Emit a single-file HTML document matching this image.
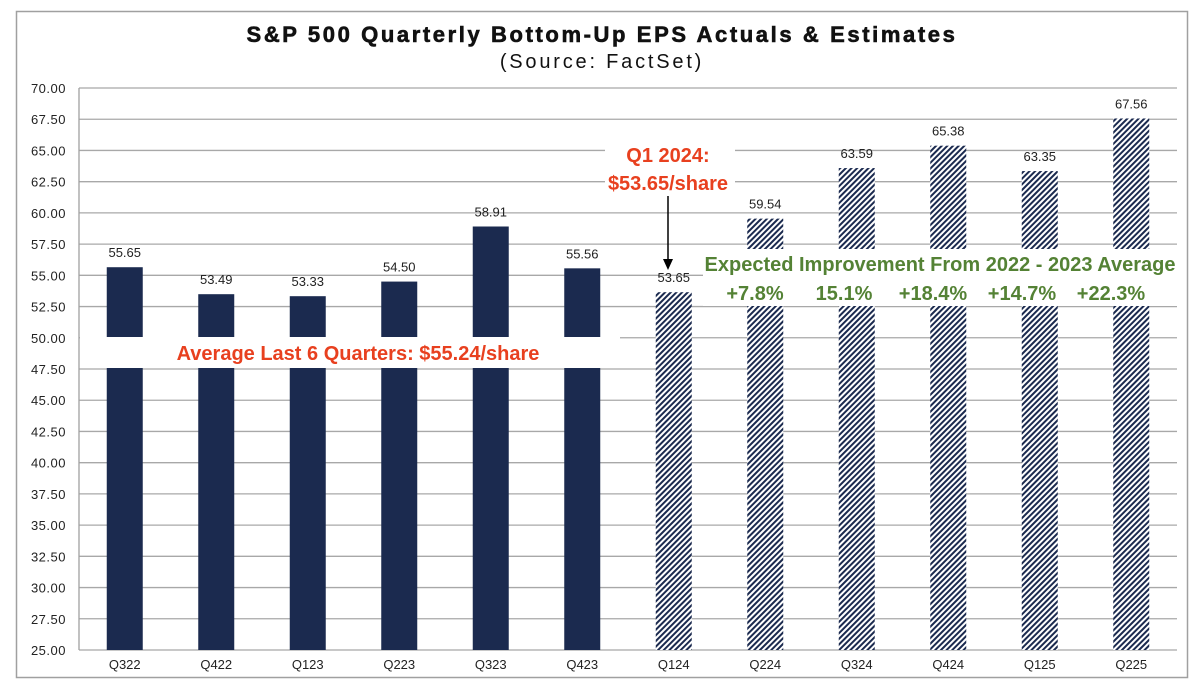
<!DOCTYPE html>
<html><head><meta charset="utf-8"><style>
html,body{margin:0;padding:0;background:#fff;}
</style></head><body>
<svg width="1200" height="695" xmlns="http://www.w3.org/2000/svg" font-family="Liberation Sans, Arial, sans-serif">
<defs>
<pattern id="h" patternUnits="userSpaceOnUse" width="4" height="4" patternTransform="rotate(45)">
<rect width="4" height="4" fill="#fff"/><rect width="2" height="4" fill="#1b2a4f"/>
</pattern>
</defs>
<rect x="0" y="0" width="1200" height="695" fill="#fff"/>
<rect x="16.5" y="11.5" width="1171" height="666" fill="#fff" stroke="#a0a0a0" stroke-width="1.5"/>
<text x="602" y="42" text-anchor="middle" font-size="22" font-weight="bold" fill="#111" letter-spacing="2.6" stroke="#111" stroke-width="0.6">S&amp;P 500 Quarterly Bottom-Up EPS Actuals &amp; Estimates</text>
<text x="602" y="68" text-anchor="middle" font-size="20" fill="#111" letter-spacing="2.8">(Source: FactSet)</text>
<g id="grid" stroke="#a8a8a8" stroke-width="1.3"></g>
<g id="yl" font-size="13" fill="#222" text-anchor="end" letter-spacing="0.5"></g>
<line x1="79" y1="88" x2="79" y2="650" stroke="#a0a0a0" stroke-width="1.3"/>
<g id="bars"></g>
<g id="labels" font-size="13" fill="#222" text-anchor="middle"></g>
<rect x="80" y="337" width="540" height="31" fill="#fff"/>
<text x="358" y="360" text-anchor="middle" font-size="20" font-weight="bold" fill="#e8401f" font-family="Liberation Sans Narrow, Liberation Sans, sans-serif">Average Last 6 Quarters: $55.24/share</text>
<rect x="605" y="140" width="130" height="55" fill="#fff"/>
<text x="668" y="162" text-anchor="middle" font-size="20" font-weight="bold" fill="#e8401f" font-family="Liberation Sans Narrow, Liberation Sans, sans-serif">Q1 2024:</text>
<text x="668" y="190" text-anchor="middle" font-size="20" font-weight="bold" fill="#e8401f" font-family="Liberation Sans Narrow, Liberation Sans, sans-serif">$53.65/share</text>
<line x1="668" y1="196" x2="668" y2="260" stroke="#000" stroke-width="1.5"/>
<polygon points="663,259 673,259 668,270" fill="#000"/>
<rect x="703" y="249" width="474" height="57" fill="#fff"/>
<text x="940" y="271" text-anchor="middle" font-size="20" font-weight="bold" fill="#548235" font-family="Liberation Sans Narrow, Liberation Sans, sans-serif">Expected Improvement From 2022 - 2023 Average</text>
<g font-size="20" font-weight="bold" fill="#548235" text-anchor="middle" font-family="Liberation Sans Narrow, Liberation Sans, sans-serif">
<text x="755" y="300">+7.8%</text><text x="844" y="300">15.1%</text><text x="933" y="300">+18.4%</text><text x="1022" y="300">+14.7%</text><text x="1111" y="300">+22.3%</text>
</g>
<g id="xl" font-size="13" fill="#222" text-anchor="middle"></g>
<script>
var ns="http://www.w3.org/2000/svg";
function el(p,t,a,txt){var e=document.createElementNS(ns,t);for(var k in a)e.setAttribute(k,a[k]);if(txt)e.textContent=txt;document.getElementById(p).appendChild(e);}
function Y(v){return 650-(v-25)*12.489;}
for(var v=25;v<=70.01;v+=2.5){el("grid","line",{x1:79,x2:1177,y1:Y(v),y2:Y(v)});el("yl","text",{x:66,y:Y(v)+5},v.toFixed(2));}
var d=[["Q322",55.65],["Q422",53.49],["Q123",53.33],["Q223",54.50],["Q323",58.91],["Q423",55.56],["Q124",53.65],["Q224",59.54],["Q324",63.59],["Q424",65.38],["Q125",63.35],["Q225",67.56]];
d.forEach(function(r,i){var cx=79+91.5*(i+0.5);el("bars","rect",{x:cx-18,y:Y(r[1]),width:36,height:650-Y(r[1]),fill:i<6?"#1b2a4f":"url(#h)"});
el("labels","text",{x:cx,y:Y(r[1])-10},r[1].toFixed(2));el("xl","text",{x:cx,y:669},r[0]);});
</script>
</svg>
</body></html>
